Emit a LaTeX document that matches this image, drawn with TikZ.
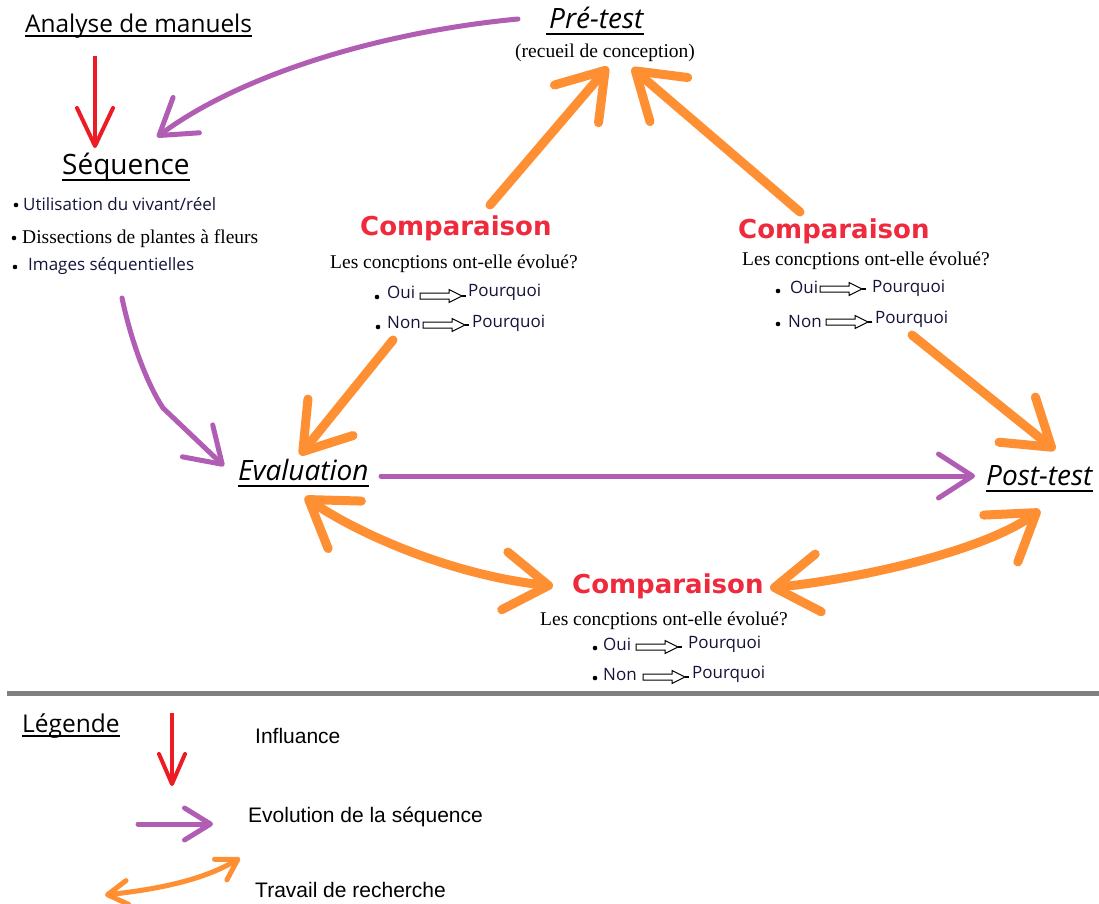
\documentclass[tikz,border=0pt]{standalone}
\usepackage{fontspec}
\setmainfont{Liberation Serif}
\newfontfamily\osans{Open Sans}
\newfontfamily\dvs{DejaVu Sans}
\newfontfamily\lsans{Liberation Sans}
\usetikzlibrary{arrows.meta,calc}
\definecolor{rd}{HTML}{ED1C24}
\definecolor{pu}{HTML}{B05DB3}
\definecolor{og}{HTML}{FF8F33}
\definecolor{cr}{HTML}{EE2A3C}
\definecolor{txtc}{HTML}{14143A}
\definecolor{sep}{HTML}{808080}
\begin{document}
\begin{tikzpicture}[x=1pt,y=-1pt,
 t/.style={inner sep=0pt, anchor=base west},
 big/.style={t, font=\osans\fontsize{24.4}{24.4}\selectfont},
 ital/.style={t, font=\osans\itshape\fontsize{28}{28}\selectfont},
 sm/.style={t, font=\osans\fontsize{17}{17}\selectfont, text=txtc},
 ser/.style={t, font=\fontsize{19.5}{19.5}\selectfont},
 comp/.style={t, font=\dvs\bfseries\fontsize{26}{26}\selectfont, text=cr},
 leg/.style={t, font=\lsans\fontsize{21}{21}\selectfont},
 dot/.style={circle, fill=black, inner sep=0pt, minimum size=4.6pt},
 ul/.style={line width=2.2pt},
 oarr/.style={draw=og, line width=9pt, line cap=round, -{Straight Barb[length=44pt,width=58pt,round]}},
 odbl/.style={draw=og, line width=9pt, line cap=round, {Straight Barb[length=44pt,width=58pt,round]}-{Straight Barb[length=44pt,width=58pt,round]}},
 parr/.style={draw=pu, line width=5pt, line cap=round, line join=round, -{Straight Barb[length=34pt,width=44pt,round]}},
 rarr/.style={draw=rd, line width=4pt, -{Straight Barb[length=38pt,width=36pt,round]}},
 hol/.pic={\draw[line width=1pt, line join=miter] (0,-3) -- (29,-3) -- (29,-6.5) -- (42,0) -- (29,6.5) -- (29,3) -- (0,3) -- cycle; \draw[line width=1.2pt] (42,0) -- (46,0);}
]
\useasboundingbox (0,0) rectangle (1099,903);
\fill[white] (0,0) rectangle (1099,903);

% ---------- top-left ----------
\node[big] (ana) at (25,32) {Analyse de manuels};
\draw[ul] ($(ana.base west)+(0,4)$) -- ($(ana.base east)+(0,4)$);
\node[t, font=\osans\fontsize{28}{28}\selectfont] (seq) at (62,174) {Séquence};
\draw[ul] ($(seq.base west)+(0,6)$) -- ($(seq.base east)+(0,6)$);

\node[dot] (b1) at (16,205) {};
\node[sm] (u1) at (23,210) {Utilisation du vivant/réel};
\node[dot] (b2) at (14,238) {};
\node[ser] (u2) at (22,243) {Dissections de plantes à fleurs};
\node[dot] (b3) at (15,267) {};
\node[sm] (u3) at (28,270) {Images séquentielles};

% ---------- Pre-test ----------
\node[t, font=\osans\itshape\fontsize{28}{28}\selectfont] (pre) at (549,28) {Pré-test};
\draw[ul] ($(pre.base west)+(-3,6)$) -- ($(pre.base east)+(0,6)$);
\node[ser] (rec) at (515,57) {(recueil de conception)};

% ---------- Comparaison 1 ----------
\node[comp] (c1) at (360,235) {Comparaison};
\node[ser] (q1) at (330,268) {Les concptions ont-elle évolué?};
\node[dot] at (377,297) {};
\node[sm] (o1) at (387,298) {Oui};
\pic at (420,296) {hol};
\node[sm] (p1) at (468,296) {Pourquoi};
\node[dot] at (378,327) {};
\node[sm] (n1) at (387,328) {Non};
\pic at (423,325) {hol};
\node[sm] (p1b) at (472,327) {Pourquoi};

% ---------- Comparaison 2 ----------
\node[comp] (c2) at (738,238) {Comparaison};
\node[ser] (q2) at (742,265) {Les concptions ont-elle évolué?};
\node[dot] at (778,291) {};
\node[sm] (o2) at (790,293) {Oui};
\pic at (820,289) {hol};
\node[sm] (p2) at (872,292) {Pourquoi};
\node[dot] at (778,324) {};
\node[sm] (n2) at (788,327) {Non};
\pic at (826,322) {hol};
\node[sm] (p2b) at (875,323) {Pourquoi};

% ---------- Evaluation / Post-test ----------
\node[ital] (eva) at (238,480) {Evaluation};
\draw[ul] ($(eva.base west)+(0,6)$) -- ($(eva.base east)+(0,6)$);
\node[ital] (post) at (986,485) {Post-test};
\draw[ul] ($(post.base west)+(0,6)$) -- ($(post.base east)+(0,6)$);

% ---------- Comparaison 3 ----------
\node[comp] (c3) at (572,593) {Comparaison};
\node[ser] (q3) at (540,625) {Les concptions ont-elle évolué?};
\node[dot] at (595,648) {};
\node[sm] (o3) at (603,650) {Oui};
\pic at (636,647) {hol};
\node[sm] (p3) at (688,648) {Pourquoi};
\node[dot] at (595,678) {};
\node[sm] (n3) at (603,680) {Non};
\pic at (643,677) {hol};
\node[sm] (p3b) at (692,678) {Pourquoi};

% ---------- connector end points ----------
\coordinate (r1) at (95,56);   \coordinate (r2) at (95,148);
\coordinate (pp1) at (518,19); \coordinate (pp2) at (157,137);
\coordinate (oa1) at (490,205); \coordinate (oa2) at (608,67);
\coordinate (ob1) at (800,212); \coordinate (ob2) at (632,68);
\coordinate (oc1) at (393,340); \coordinate (oc2) at (300,455);
\coordinate (od1) at (912,335); \coordinate (od2) at (1055,450);
\coordinate (ps1) at (122,298); \coordinate (ps2) at (224,466);
\coordinate (pe1) at (381,476); \coordinate (pe2) at (975,476);
\coordinate (oe1) at (305,497); \coordinate (oe2) at (553,586);
\coordinate (of1) at (770,588); \coordinate (of2) at (1040,510);

% ---------- connectors ----------
\draw[rarr] (r1) -- (r2);
\draw[parr] (pp1) .. controls (380,32) and (240,75) .. (pp2);
\draw[oarr] (oa1) -- (oa2);
\draw[oarr] (ob1) -- (ob2);
\draw[oarr] (oc1) -- (oc2);
\draw[oarr] (od1) -- (od2);
\draw[parr] (ps1) .. controls (132,345) and (148,385) .. (163,408) -- (ps2);
\draw[parr] (pe1) -- (pe2);
\draw[odbl] (oe1) .. controls (355,532) and (450,575) .. (oe2);
\draw[odbl] (of1) .. controls (865,578) and (985,550) .. (of2);

% ---------- separator ----------
\draw[sep, line width=5pt] (7,693) -- (1099,693);

% ---------- legend ----------
\node[t, font=\osans\fontsize{24.5}{24.5}\selectfont] (lg) at (22,732) {Légende};
\draw[ul] ($(lg.base west)+(0,4)$) -- ($(lg.base east)+(0,4)$);
\coordinate (lr1) at (172,713); \coordinate (lr2) at (172,786);
\draw[draw=rd, line width=4pt, -{Straight Barb[length=30pt,width=26pt,round]}] (lr1) -- (lr2);
\node[leg] (l1) at (255,743) {Influance};
\coordinate (lp1) at (138,824); \coordinate (lp2) at (213,824);
\draw[draw=pu, line width=5pt, line cap=round, -{Straight Barb[length=26pt,width=32pt,round]}] (lp1) -- (lp2);
\node[leg] (l2) at (248,822) {Evolution de la séquence};
\coordinate (lo1) at (105,895); \coordinate (lo2) at (240,858);
\draw[draw=og, line width=5pt, line cap=round, {Straight Barb[length=20pt,width=24pt,round]}-{Straight Barb[length=20pt,width=24pt,round]}] (lo1) .. controls (150,890) and (200,882) .. (lo2);
\node[leg] (l3) at (255,897) {Travail de recherche};
\end{tikzpicture}
\end{document}
